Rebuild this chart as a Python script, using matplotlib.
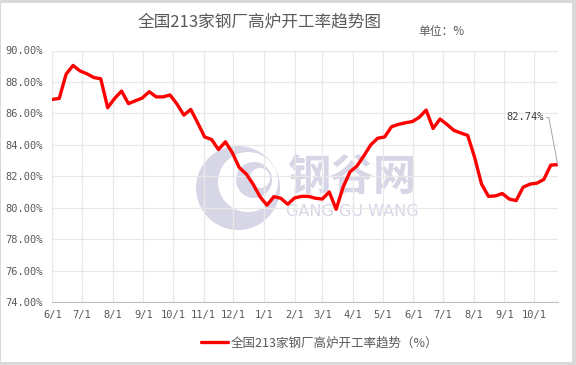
import matplotlib

matplotlib.use("Agg")
import matplotlib.pyplot as plt
import matplotlib.dates as mdates
from matplotlib.patches import Rectangle, Ellipse
from matplotlib.ticker import FuncFormatter
import pandas as pd

plt.rcParams["font.family"] = ["Noto Sans CJK SC", "DejaVu Sans"]

TITLE = "全国213家钢厂高炉开工率趋势图"
UNIT = "单位：%"
SERIES_NAME = "全国213家钢厂高炉开工率趋势（%）"

# weekly readings, starting 2020-06-01
START = "2020-06-01"
RATE = [
    86.89, 86.95, 88.50, 89.05, 88.70, 88.52, 88.28, 88.20, 86.36, 86.95,
    87.42, 86.62, 86.80, 86.98, 87.38, 87.05, 87.05, 87.17, 86.60, 85.89,
    86.25, 85.40, 84.50, 84.34, 83.70, 84.19, 83.50, 82.55, 82.15, 81.50,
    80.70, 80.16, 80.70, 80.60, 80.22, 80.62, 80.72, 80.72, 80.60, 80.55,
    81.00, 79.90, 81.30, 82.28, 82.65, 83.30, 84.00, 84.42, 84.50, 85.15,
    85.30, 85.40, 85.48, 85.75, 86.21, 85.04, 85.64, 85.30, 84.92, 84.75,
    84.60, 83.20, 81.50, 80.72, 80.75, 80.90, 80.55, 80.45, 81.30, 81.50,
    81.56, 81.80, 82.71, 82.74,
]
Y_TICKS = [74, 76, 78, 80, 82, 84, 86, 88, 90]

LINE_COLOR = "#ff0000"
TEXT_COLOR = "#595959"
GRID_COLOR = "#e8e8e8"
MARK_COLOR = "#d7d6e6"  # watermark lavender

dates = pd.date_range(START, periods=len(RATE), freq="7D")

fig = plt.figure(figsize=(5.76, 3.65), dpi=100, facecolor="#d9d9d9")
fig.patches.append(Rectangle((1 / 576, 3 / 365), 571 / 576, 359 / 365,
                             transform=fig.transFigure, facecolor="white",
                             edgecolor="none", zorder=-10))
ax = fig.add_axes([52.3 / 576, 1 - 302 / 365, 505.4 / 576, 251.5 / 365])
ax.patch.set_alpha(0)


def px_ellipse(cx, cy, d, color, z):
    # circle given in pixel units of the 576x365 canvas
    return Ellipse((cx / 576, 1 - cy / 365), d / 576, d / 365,
                   transform=fig.transFigure, facecolor=color,
                   edgecolor="none", zorder=z)


# watermark logo + name
fig.patches.append(px_ellipse(238, 188, 84, MARK_COLOR, -6))
fig.patches.append(px_ellipse(248, 182, 60, "white", -5))
fig.patches.append(px_ellipse(254, 180, 36, MARK_COLOR, -4))
fig.patches.append(px_ellipse(260, 178, 20, "white", -3))
fig.text(352 / 576, 1 - 177 / 365, "钢谷网", fontsize=31, fontweight="bold",
         color=MARK_COLOR, ha="center", va="center", zorder=-3)
fig.text(352 / 576, 1 - 212 / 365, "GANG GU WANG", fontsize=11.5,
         color=MARK_COLOR, ha="center", va="center", zorder=-3,
         family="DejaVu Sans")

ax.plot(dates, RATE, color=LINE_COLOR, lw=2.4, solid_joinstyle="round",
        solid_capstyle="round", zorder=3)

ax.set_xlim(dates[0], dates[-1])
ax.set_ylim(Y_TICKS[0], Y_TICKS[-1])
ax.set_yticks(Y_TICKS)
ax.yaxis.set_major_formatter(FuncFormatter(lambda v, p: f"{v:.2f}%"))
ax.xaxis.set_major_locator(mdates.MonthLocator())
ax.xaxis.set_major_formatter(FuncFormatter(
    lambda v, p: f"{mdates.num2date(v).month}/{mdates.num2date(v).day}"))

ax.grid(True, color=GRID_COLOR, lw=0.9)
ax.set_axisbelow(True)
for s in ("top", "right", "left"):
    ax.spines[s].set_visible(False)
ax.spines["bottom"].set_color("#bfbfbf")
ax.tick_params(length=0, colors=TEXT_COLOR, labelsize=7.5)
ax.tick_params(axis="y", pad=7)
ax.tick_params(axis="x", pad=6)
for lab in ax.get_xticklabels() + ax.get_yticklabels():
    lab.set_family("DejaVu Sans Mono")

# last value callout
ax.annotate(f"{RATE[-1]:.2f}%", xy=(dates[-1], RATE[-1]), xytext=(-10, 34),
            textcoords="offset points", ha="right", va="center",
            fontsize=7.5, color="#404040", family="DejaVu Sans Mono",
            arrowprops=dict(arrowstyle="-", color="#a6a6a6", lw=0.7,
                            shrinkA=0, shrinkB=0, relpos=(1, 0.5),
                            connectionstyle="arc,angleA=0,armA=5,angleB=90,armB=0,rad=0"))

fig.text(260 / 576, 1 - 22 / 365, TITLE, fontsize=12, color=TEXT_COLOR,
         ha="center", va="center")
fig.text(441 / 576, 1 - 31 / 365, UNIT, fontsize=8.5, color=TEXT_COLOR,
         ha="center", va="center")

fig.legend(handles=ax.get_lines(), labels=[SERIES_NAME], loc="center",
           bbox_to_anchor=(319.5 / 576, 1 - 343 / 365), frameon=False,
           fontsize=9, handlelength=2.2, handletextpad=0.2,
           labelcolor=TEXT_COLOR)

fig.savefig("out.png", dpi=100, facecolor=fig.get_facecolor())
